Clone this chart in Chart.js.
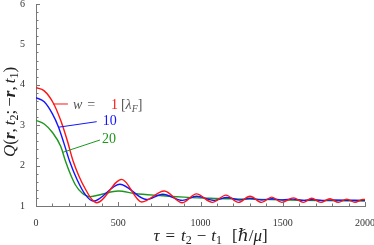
<!DOCTYPE html>
<html><head><meta charset="utf-8">
<script src="https://cdn.jsdelivr.net/npm/chart.js@4.4.1/dist/chart.umd.min.js"></script>
<style>html,body{margin:0;padding:0;background:#fff;overflow:hidden}</style>
</head><body>
<canvas id="c" width="374" height="245" style="display:block;width:374px;height:245px"></canvas>
<script>
// ---- data ----
const tauRed = [0,50,105,150,190,225,260,300,340,369,521,642,780,890,975,1072,1155,1230,1301,1372,1433,1494,1565,1625,1676,1731,1787,1838,1889,1939,1986,2000];
const qRed   = [3.93,3.85,3.55,3.12,2.62,2.12,1.75,1.42,1.16,1.08,1.66,1.10,1.37,1.08,1.30,1.09,1.27,1.09,1.24,1.09,1.22,1.09,1.20,1.09,1.19,1.09,1.18,1.09,1.17,1.09,1.16,1.16];
const tauBlue = [0,50,100,136,170,205,250,300,348,510,673,770,890,975,1085,1160,1240,1300,1370,1435,1500,1560,1630,1680,1740,1800,2000];
const qBlue   = [3.68,3.58,3.28,2.96,2.55,2.10,1.65,1.28,1.12,1.54,1.16,1.29,1.14,1.24,1.14,1.21,1.15,1.19,1.15,1.18,1.15,1.17,1.14,1.16,1.14,1.15,1.14];
const tauGreen = [0,50,100,150,180,210,240,280,328,400,500,600,750,900,1060,1300,1600,2000];
const qGreen   = [3.12,3.03,2.82,2.48,2.10,1.78,1.52,1.32,1.23,1.29,1.37,1.31,1.26,1.22,1.19,1.17,1.14,1.12];
const xTicks = [0,500,1000,1500,2000];
const yTicks = [1,2,3,4,5,6];
const seriesW = ['1','10','20'];
const seriesColors = ['rgb(255,20,20)','rgb(20,20,255)','rgb(30,150,30)'];
// callout connectors (data coordinates)
const calloutStartTau = [103,136,164];
const calloutStartQ   = [3.525,2.95,2.33];
const calloutEndTau   = [194,369,389];
const calloutEndQ     = [3.525,3.087,2.634];

const SERIF = '"Liberation Serif","DejaVu Serif",serif';
const pts = (xs, ys) => xs.map((t,i)=>({x:t,y:ys[i]}));

function drawRuns(ctx, parts, x, y, align){
  let w = 0;
  parts.forEach(p=>{ ctx.font = p.f; w += ctx.measureText(p.t).width + (p.sp||0); });
  let cx = align==='center' ? x - w/2 : x;
  parts.forEach(p=>{
    ctx.font = p.f; ctx.fillStyle = p.c || '#222';
    ctx.fillText(p.t, cx, y + (p.dy||0));
    cx += ctx.measureText(p.t).width + (p.sp||0);
  });
}

const decor = {
  id:'decor',
  afterDatasetsDraw(chart){
    const {ctx, scales:{x,y}, chartArea:a} = chart;
    ctx.save();
    ctx.strokeStyle = '#777'; ctx.lineWidth = 1;
    ctx.beginPath();
    for(let v=0; v<=2000; v+=100){
      const px = Math.round(x.getPixelForValue(v))+0.5;
      const len = v%500===0 ? 4 : 2.5;
      ctx.moveTo(px, a.bottom); ctx.lineTo(px, a.bottom-len);
    }
    for(let k=0; k<=25; k++){
      const py = Math.round(y.getPixelForValue(1+k*0.2))+0.5;
      const len = k%5===0 ? 4 : 2.5;
      ctx.moveTo(a.left, py); ctx.lineTo(a.left+len, py);
    }
    ctx.stroke();
    ctx.lineWidth = 1;
    for(let i=0;i<3;i++){
      ctx.strokeStyle = seriesColors[i];
      ctx.beginPath();
      ctx.moveTo(x.getPixelForValue(calloutStartTau[i]), y.getPixelForValue(calloutStartQ[i]));
      ctx.lineTo(x.getPixelForValue(calloutEndTau[i]), y.getPixelForValue(calloutEndQ[i]));
      ctx.stroke();
    }
    ctx.restore();
  },
  afterDraw(chart){
    const {ctx, scales:{x,y}, chartArea:a} = chart;
    ctx.save();
    ctx.textBaseline = 'alphabetic';
    const S = 17, I = 'italic '+S+'px '+SERIF, R = S+'px '+SERIF, BI='italic bold '+S+'px '+SERIF, SUB = Math.round(S*0.7)+'px '+SERIF;
    drawRuns(ctx, [
      {t:'τ', f:I, sp:6},{t:'=', f:R, sp:6},{t:'t', f:I},{t:'2', f:SUB, dy:3, sp:5},
      {t:'−', f:R, sp:5},{t:'t', f:I},{t:'1', f:SUB, dy:3, sp:10},
      {t:'[', f:R},{t:'ℏ', f:I},{t:'/', f:R},{t:'μ', f:I},{t:']', f:R}
    ], (a.left+a.right)/2+10, 241, 'center');
    ctx.save();
    ctx.translate(15, 112);
    ctx.rotate(-Math.PI/2);
    drawRuns(ctx, [
      {t:'Q', f:I},{t:'(', f:R},{t:'r', f:BI},{t:',', f:R, sp:3},{t:'t', f:I},{t:'2', f:SUB, dy:3},
      {t:';', f:R, sp:3},{t:'−', f:R},{t:'r', f:BI},{t:',', f:R, sp:3},{t:'t', f:I},{t:'1', f:SUB, dy:3},{t:')', f:R}
    ], 0, 0, 'center');
    ctx.restore();
    const F = '14px '+SERIF, FI = 'italic 14px '+SERIF;
    const ex0 = x.getPixelForValue(calloutEndTau[0]), ey0 = y.getPixelForValue(calloutEndQ[0]);
    drawRuns(ctx, [{t:'w', f:FI, c:'#555', sp:5},{t:'=', f:F, c:'#555'}], ex0+5, ey0+5, 'left');
    drawRuns(ctx, [{t:seriesW[0], f:F, c:seriesColors[0], sp:3},{t:'[', f:F, c:'#555'},{t:'λ', f:FI, c:'#555'},{t:'F', f:'italic 10px '+SERIF, c:'#555', dy:3},{t:']', f:F, c:'#555'}], ex0+43, ey0+5, 'left');
    const ex1 = x.getPixelForValue(calloutEndTau[1]), ey1 = y.getPixelForValue(calloutEndQ[1]);
    drawRuns(ctx, [{t:seriesW[1], f:F, c:seriesColors[1]}], ex1+6, ey1+3, 'left');
    const ex2 = x.getPixelForValue(calloutEndTau[2]), ey2 = y.getPixelForValue(calloutEndQ[2]);
    drawRuns(ctx, [{t:seriesW[2], f:F, c:seriesColors[2]}], ex2+2, ey2+3, 'left');
    ctx.restore();
  }
};

const ds = (xs, ys, col) => ({data: pts(xs,ys), borderColor: col, borderWidth: 1.4, pointRadius: 0, fill: false, cubicInterpolationMode: 'monotone'});

new Chart(document.getElementById('c').getContext('2d'), {
  type: 'line',
  data: {datasets: [ds(tauRed,qRed,seriesColors[0]), ds(tauBlue,qBlue,seriesColors[1]), ds(tauGreen,qGreen,seriesColors[2])]},
  options: {
    responsive: false, animation: false, devicePixelRatio: 1,
    layout: {padding: {left: 0, top: 4, right: 9, bottom: 0}},
    plugins: {legend: {display: false}, tooltip: {enabled: false}},
    scales: {
      x: {type: 'linear', min: 0, max: 2000,
        afterBuildTicks: s => { s.ticks = xTicks.map(v => ({value: v})); },
        ticks: {font: {family: SERIF, size: 10}, color: '#333', padding: 3, maxRotation: 0, autoSkip: false, callback: v => String(v)},
        grid: {display: false}, border: {display: true, color: '#777', width: 1},
        afterFit: s => { s.height = 39; s.paddingRight = 9; s.paddingLeft = 0; }
      },
      y: {type: 'linear', min: 1, max: 6,
        afterBuildTicks: s => { s.ticks = yTicks.map(v => ({value: v})); },
        ticks: {font: {family: SERIF, size: 10}, color: '#333', padding: 3, callback: v => String(v)},
        grid: {display: false}, border: {display: true, color: '#777', width: 1},
        afterFit: s => { s.width = 36; s.paddingTop = 0; s.paddingBottom = 0; }
      }
    }
  },
  plugins: [decor]
});
</script>
</body></html>
